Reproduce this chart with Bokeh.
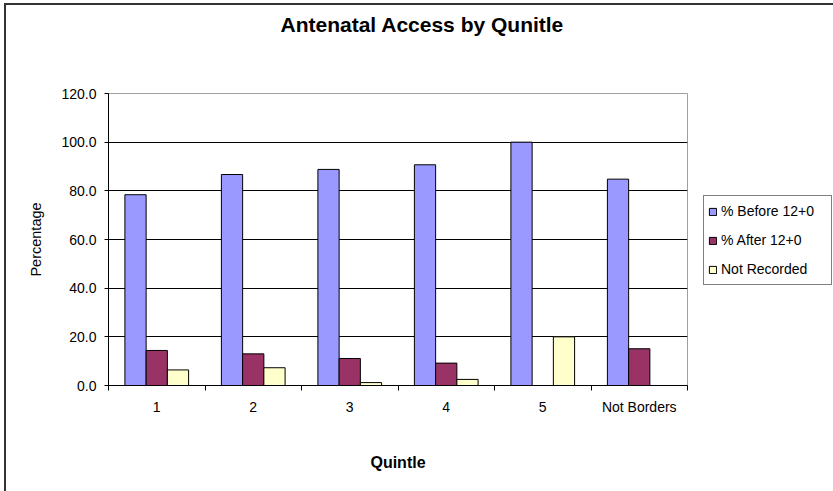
from bokeh.plotting import figure
from bokeh.models import (ColumnDataSource, FixedTicker, NumeralTickFormatter,
                          Legend, LegendItem, Range1d, Title, InlineStyleSheet)
from bokeh.embed import file_html
from bokeh.resources import INLINE

# Antenatal access (%) by deprivation quintile
categories = ["1", "2", "3", "4", "5", "Not Borders"]
before_12 = [78.4, 86.7, 88.8, 90.7, 100.0, 84.8]
after_12 = [14.4, 13.0, 11.1, 9.2, 0.0, 15.1]
not_recorded = [6.4, 7.3, 1.2, 2.5, 20.0, 0.0]
y_ticks = [0, 20, 40, 60, 80, 100, 120]

series = [
    ("% Before 12+0", before_12, "#9999FF", -0.22),
    ("% After 12+0", after_12, "#993366", 0.0),
    ("Not Recorded", not_recorded, "#FFFFCC", 0.22),
]

FONT = "Liberation Sans"
n = len(categories)
centers = [i + 0.5 for i in range(n)]

p = figure(
    frame_width=579, frame_height=292,
    min_border_left=108, min_border_right=146,
    min_border_top=93, min_border_bottom=106,
    x_range=Range1d(0, n), y_range=Range1d(0, 120),
    output_backend="svg", toolbar_location=None, tools="",
    background_fill_color="white", border_fill_alpha=0,
)
# thin chart border along the left and top edges, a few pixels in from the corner
p.stylesheets = [InlineStyleSheet(css=(
    ":host { background-color: white; "
    "box-shadow: inset 4px 3px 0 0 white, inset 6px 5px 0 0 #333333; }"
))]
p.outline_line_color = "#a0a0a0"
p.outline_line_width = 1

p.title.text = "Antenatal Access by Qunitle"
p.title.align = "left"
p.title.offset = 172
p.title.text_font = FONT
p.title.text_font_size = "21px"
p.title.text_font_style = "bold"
p.title.text_color = "black"
# blank spacer keeps the heading clear of the plot area
p.add_layout(Title(text="\u00a0", text_font_size="36px"), "above")

items = []
for name, vals, color, off in series:
    src = ColumnDataSource(dict(x=[c + off for c in centers], top=vals))
    r = p.vbar(x="x", top="top", width=0.22, bottom=0, source=src,
               fill_color=color, line_color="black", line_width=1)
    items.append(LegendItem(label=name, renderers=[r]))

# x axis: labels at category centres, tick marks between categories
p.xaxis.ticker = FixedTicker(ticks=centers, minor_ticks=list(range(n + 1)))
p.xaxis.major_label_overrides = {c: lab for c, lab in zip(centers, categories)}
p.xaxis.major_tick_out = 0
p.xaxis.major_tick_in = 0
p.xaxis.minor_tick_out = 5
p.xaxis.minor_tick_in = 0
p.xaxis.minor_tick_line_color = "black"
p.xaxis.axis_line_color = "black"
p.xaxis.major_label_text_font = FONT
p.xaxis.major_label_text_font_size = "14px"
p.xaxis.major_label_text_color = "black"
p.xaxis.major_label_standoff = 8
p.xaxis.axis_label = "Quintle"
p.xaxis.axis_label_text_font = FONT
p.xaxis.axis_label_text_font_size = "16px"
p.xaxis.axis_label_text_font_style = "bold"
p.xaxis.axis_label_text_color = "black"
p.xaxis.axis_label_standoff = 36

# y axis
p.yaxis.ticker = FixedTicker(ticks=y_ticks)
p.yaxis.formatter = NumeralTickFormatter(format="0.0")
p.yaxis.major_tick_out = 4
p.yaxis.major_tick_in = 0
p.yaxis.minor_tick_line_color = None
p.yaxis.axis_line_color = "black"
p.yaxis.major_tick_line_color = "black"
p.yaxis.major_label_text_font = FONT
p.yaxis.major_label_text_font_size = "14px"
p.yaxis.major_label_text_color = "black"
p.yaxis.major_label_standoff = 8
p.yaxis.axis_label = "Percentage"
p.yaxis.axis_label_text_font = FONT
p.yaxis.axis_label_text_font_size = "14.5px"
p.yaxis.axis_label_text_font_style = "normal"
p.yaxis.axis_label_text_color = "black"
p.yaxis.axis_label_standoff = 14

p.xgrid.visible = False
p.ygrid.ticker = FixedTicker(ticks=y_ticks[1:-1])
p.ygrid.grid_line_color = "black"
p.ygrid.grid_line_width = 1

legend = Legend(
    items=items, location=(16, 100),
    border_line_color="black", border_line_width=1,
    background_fill_color="white", background_fill_alpha=1,
    label_text_font=FONT, label_text_font_size="14px", label_text_color="black",
    glyph_width=9, glyph_height=9, label_standoff=4,
    label_height=22, spacing=7, padding=4, margin=0, label_width=106,
)
p.add_layout(legend, "right")

open("out.html", "w").write(file_html(p, INLINE))
